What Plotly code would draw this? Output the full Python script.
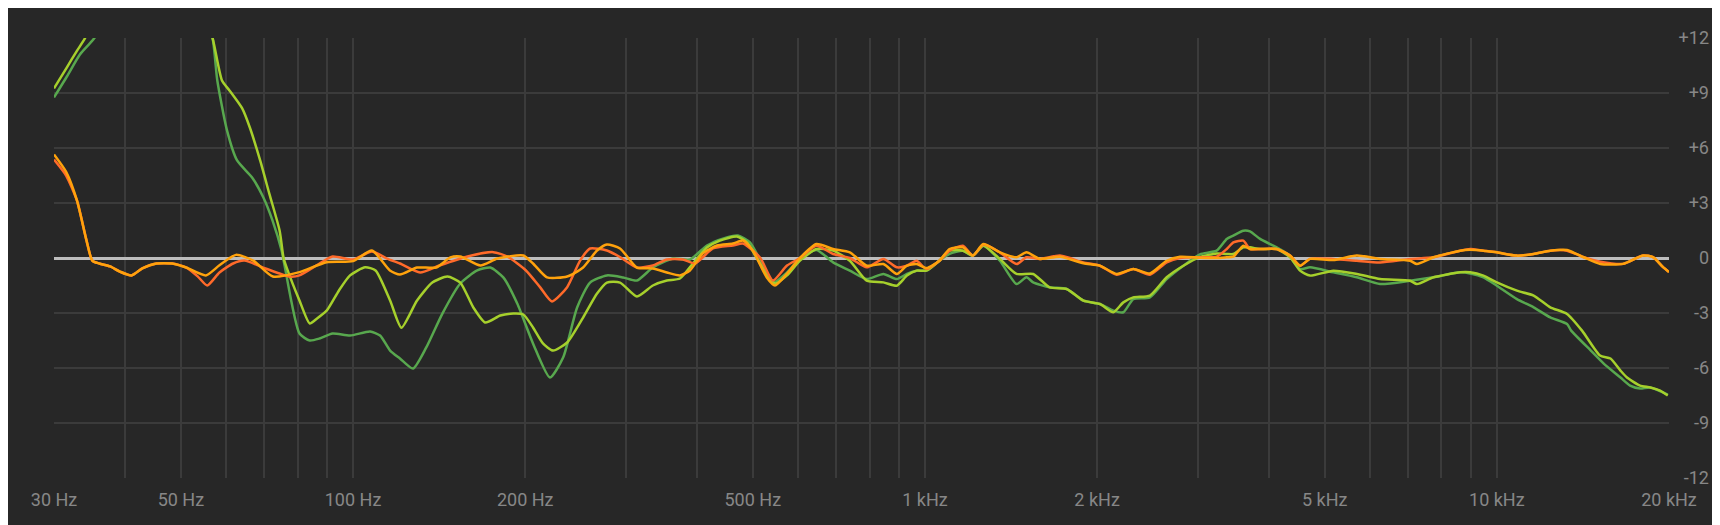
import plotly.graph_objects as go

# ---------------- data (frequency in Hz, level in dB) ----------------
green_f = [30, 31.6, 33.3, 35.3, 40, 48, 54, 56.8, 57.9, 60.2, 62.7, 66.6, 69.7, 72.3, 75.0, 75.9,
           80.6, 84.0, 87.4, 92.1, 98.8, 107.1, 111.5, 116.1, 120.8, 127.3, 134.3, 143.3, 154, 164.9,
           173.8, 183.1, 193.7, 206.4, 221, 233, 246.5, 259.7, 277.9, 296.6, 313.6, 334.4, 362.5,
           388.2, 415.7, 443.4, 471, 494.4, 520.9, 542.4, 573.9, 604.6, 646, 691, 739, 791, 846, 893,
           930, 967, 1006, 1060, 1104, 1165, 1213, 1265, 1352, 1446, 1505, 1546, 1652, 1769, 1893,
           2023, 2135, 2223, 2314, 2474, 2647, 2831, 3026, 3236, 3371, 3462, 3603, 3702, 3855, 4122,
           4349, 4528, 4714, 5177, 5690, 6250, 7053, 7751, 8629, 8984, 9475, 10000, 10842, 11596,
           12400, 13265, 13490, 14600, 15380, 16450, 17100, 17800, 18552, 19900]
green_db = [8.76, 9.9, 11.1, 12.0, 15.0, 16.0, 14.0, 12.0, 9.68, 6.96, 5.32, 4.39, 3.30, 2.05, 0.41, -0.4,
            -4.12, -4.50, -4.39, -4.12, -4.23, -4.01, -4.23, -5.05, -5.48, -6.03, -4.88, -3.03, -1.39, -0.68,
            -0.52, -1.06, -2.48, -4.66, -6.52, -5.43, -2.70, -1.34, -0.95, -1.06, -1.23, -0.52, -0.03,
            -0.08, 0.68, 1.06, 1.23, 0.85, -0.41, -1.34, -0.79, -0.03, 0.44, -0.24, -0.69, -1.15, -0.87, -1.15,
            -0.87, -0.69, -0.69, -0.15, 0.22, 0.40, 0.13, 0.67, -0.15, -1.42, -1.05, -1.33, -1.60, -1.69, -2.33,
            -2.51, -2.87, -2.96, -2.24, -2.15, -1.15, -0.42, 0.20, 0.40, 1.04, 1.22, 1.49, 1.45, 1.04, 0.58,
            0.13, -0.60, -0.51, -0.78, -1.05, -1.42, -1.24, -1.05, -0.78, -0.84, -1.05, -1.51, -2.24, -2.69,
            -3.24, -3.60, -3.96, -5.05, -5.76, -6.52, -6.96, -7.12, -7.06, -7.45]

lime_f = [30, 31.6, 32.9, 34.0, 36, 42, 50, 54, 56.8, 59.0, 60.8, 64.0, 66.0, 68.8, 71.4, 74.4, 75.6,
          76.5, 80.6, 84.0, 86.5, 90, 94.5, 98.8, 105, 109.5, 116.1, 121.5, 129.4, 137.6, 146.2, 154,
          162.3, 170.3, 180.9, 190.6, 198.5, 206.4, 214.8, 223.7, 236.8, 252.5, 267.1, 277.9, 293,
          313.6, 334.4, 353.8, 372.9, 392.9, 415.7, 438.1, 469.1, 488.5, 514.7, 546.8, 573.9, 604.6,
          646, 691, 739, 791, 846, 893, 930, 967, 1006, 1060, 1104, 1165, 1213, 1265, 1352, 1446, 1546,
          1652, 1769, 1893, 2023, 2135, 2223, 2314, 2474, 2647, 2831, 3026, 3236, 3371, 3462, 3603,
          3702, 3855, 4122, 4349, 4528, 4714, 5177, 5690, 6250, 7053, 7247, 7751, 8629, 8984, 9475,
          10000, 10842, 11596, 12400, 13265, 14092, 15150, 15800, 16450, 16890, 17800, 18552, 19300, 19900]
lime_db = [9.25, 10.4, 11.3, 12.0, 14.0, 16.0, 16.0, 14.0, 12.0, 9.68, 9.14, 8.16, 7.12, 5.32, 3.5, 1.50, 0.0,
           -0.5, -2.32, -3.57, -3.3, -2.86, -1.77, -0.95, -0.50, -0.68, -2.32, -3.8, -2.32, -1.34, -1.01, -1.34,
           -2.70, -3.52, -3.14, -3.03, -3.08, -3.79, -4.66, -5.05, -4.61, -3.25, -1.94, -1.34, -1.34,
           -2.10, -1.50, -1.23, -1.12, -0.30, 0.57, 0.95, 1.17, 0.85, -0.30, -1.39, -0.95, -0.14,
           0.49, 0.40, -0.15, -1.24, -1.33, -1.51, -0.96, -0.69, -0.69, -0.15, 0.40, 0.40, 0.13, 0.67, -0.05, -0.87, -0.87,
           -1.60, -1.69, -2.33, -2.51, -2.96, -2.42, -2.15, -2.05, -1.05, -0.42, 0.05, 0.25, 0.22, 0.22, 0.58,
           0.58, 0.49, 0.49, 0.04, -0.69, -0.96, -0.69, -0.87, -1.15, -1.24, -1.42, -1.05, -0.78, -0.78, -0.96,
           -1.33, -1.78, -2.05, -2.69, -3.05, -3.96, -5.32, -5.48, -6.14, -6.52, -6.96, -7.06, -7.23, -7.50]

red_f = [30, 31.5, 32.9, 34.2, 35.0, 36.0, 37.6, 39.1, 41.0, 42.8, 45.3, 48.3, 51.1, 53.5, 55.6, 58.4,
         61.7, 64.6, 70.3, 77.4, 80.6, 87.4, 92.1, 100, 107.9, 114.7, 120.8, 131.0, 141.6, 158.5, 175.9,
         186.1, 200.6, 212.3, 222.8, 236.8, 249.5, 259.7, 277.9, 293.0, 313.6, 334.4, 353.8, 377.4, 396,
         426, 461.6, 480.7, 514.7, 542.4, 573.9, 604.6, 646, 691, 739, 791, 846, 893, 930, 967, 1006,
         1060, 1104, 1165, 1213, 1265, 1352, 1446, 1505, 1589, 1722, 1893, 2023, 2164, 2314, 2474, 2647,
         2793, 3026, 3236, 3371, 3462, 3603, 3702, 3855, 4122, 4349, 4528, 4714, 5177, 5690, 6250, 7053,
         7751, 8629, 8984, 9475, 10000, 10842, 11596, 12400, 13265, 14186, 15166, 16620, 18015, 18755,
         19530, 20000]
red_db = [5.37, 4.5, 3.14, 0.95, -0.14, -0.30, -0.46, -0.74, -0.95, -0.57, -0.30, -0.30, -0.52, -1.0, -1.50, -0.79,
          -0.30, -0.14, -0.57, -1.01, -0.95, -0.30, 0.08, -0.08, 0.35, -0.03, -0.30, -0.79, -0.41, 0.08, 0.32,
          0.08, -0.68, -1.59, -2.37, -1.59, -0.14, 0.52, 0.41, 0.05, -0.52, -0.41, -0.08, -0.08, -0.30,
          0.52, 0.68, 0.79, 0.03, -1.23, -0.41, 0.0, 0.67, 0.22, 0.0, -0.51, -0.05, -0.51, -0.42, -0.15, -0.60,
          -0.15, 0.40, 0.67, 0.13, 0.73, 0.31, -0.33, 0.04, -0.05, 0.13, -0.24, -0.42, -0.91, -0.60, -0.91, -0.24,
          0.0, 0.04, 0.07, 0.49, 0.85, 0.95, 0.49, 0.49, 0.49, 0.13, -0.42, -0.05, -0.05, -0.15, -0.24, -0.05,
          0.04, 0.40, 0.49, 0.40, 0.31, 0.13, 0.22, 0.40, 0.40, 0.04, -0.20, -0.32, 0.14, 0.05,
          -0.50, -0.77]

orange_f = [30, 31.5, 32.9, 34.2, 35.0, 36.0, 37.6, 39.1, 41.0, 42.8, 45.3, 48.3, 51.1, 55.3, 58.4, 62.4,
            66.9, 72.4, 80.6, 89.9, 100, 107.9, 116, 120.8, 129.4, 139.8, 148, 154, 167, 178.8, 198.5,
            206.4, 218.4, 236.8, 252.5, 267.1, 277.9, 293, 313.6, 334.4, 353.8, 372.9, 388.2, 409, 433,
            461.6, 480.7, 500, 529, 546.8, 573.9, 604.6, 646, 691, 739, 791, 846, 893, 930, 967, 1006,
            1060, 1104, 1165, 1213, 1265, 1352, 1446, 1505, 1589, 1722, 1893, 2023, 2164, 2314, 2474, 2647,
            2793, 3026, 3236, 3371, 3462, 3603, 3702, 3855, 4122, 4349, 4528, 4714, 5177, 5690, 6250, 7053,
            7247, 7751, 8629, 8984, 9475, 10000, 10842, 11596, 12400, 13265, 14186, 15166, 16620, 18015,
            18755, 19530, 20000]
orange_db = [5.65, 4.7, 3.14, 0.95, -0.14, -0.30, -0.46, -0.74, -0.95, -0.57, -0.30, -0.30, -0.52, -0.95, -0.40, 0.17,
             -0.14, -1.01, -0.77, -0.23, -0.17, 0.41, -0.68, -0.90, -0.52, -0.52, 0.03, 0.08, -0.41, -0.03, 0.14,
             -0.30, -1.06, -1.01, -0.52, 0.41, 0.74, 0.52, -0.52, -0.57, -0.79, -0.95, -0.68, 0.25, 0.68,
             0.79, 0.95, 0.41, -1.06, -1.50, -0.85, 0.0, 0.76, 0.49, 0.31, -0.42, -0.33, -0.87, -0.42, -0.33, -0.55,
             -0.15, 0.49, 0.58, 0.13, 0.76, 0.31, 0.04, 0.31, -0.05, 0.07, -0.29, -0.42, -0.87, -0.60, -0.84, -0.15,
             0.07, 0.02, 0.0, 0.04, 0.07, 0.67, 0.49, 0.49, 0.49, 0.13, -0.42, -0.05, -0.11, 0.13, -0.05, -0.15,
             -0.33, 0.04, 0.40, 0.45, 0.40, 0.31, 0.13, 0.22, 0.40, 0.44, 0.04, -0.33, -0.32, 0.14,
             0.05, -0.50, -0.77]

grid_freqs = [30, 40, 50, 60, 70, 80, 90, 100, 200, 300, 400, 500, 600, 700, 800, 900,
              1000, 2000, 3000, 4000, 5000, 6000, 7000, 8000, 9000, 10000, 20000]
x_labels = {30: "30 Hz", 50: "50 Hz", 100: "100 Hz", 200: "200 Hz", 500: "500 Hz",
            1000: "1 kHz", 2000: "2 kHz", 5000: "5 kHz", 10000: "10 kHz", 20000: "20 kHz"}
y_vals = [-12, -9, -6, -3, 0, 3, 6, 9, 12]
y_labels = ["-12", "-9", "-6", "-3", "0", "+3", "+6", "+9", "+12"]

series = [
    ("green", green_f, green_db, "#58a84e"),
    ("lime", lime_f, lime_db, "#a6d02c"),
    ("red", red_f, red_db, "#ff6a2a"),
    ("orange", orange_f, orange_db, "#ffa20c"),
]

# ---------------- figure ----------------
# the page places the figure 8px in from the top-left corner
W, H = 1712, 517
L, T = 46, 30            # plot area left / top inside the figure
R_PLOT, B_PLOT = 1661, 470
R_MARGIN = 11

fig = go.Figure()
for name, f, db, col in series:
    fig.add_trace(go.Scatter(x=f, y=db, mode="lines", name=name,
                             line=dict(color=col, width=2.5, shape="spline", smoothing=0.6),
                             hoverinfo="skip"))

paper_w = W - L - R_MARGIN
paper_h = B_PLOT - T
dom_end = (R_PLOT - L) / paper_w
grid_col = "#3b3b3b"
font = dict(family="Roboto, 'Open Sans', sans-serif", size=18, color="#878787")

fig.update_layout(
    template="none",
    width=W, height=H,
    margin=dict(l=L, r=R_MARGIN, t=T, b=H - B_PLOT, pad=0, autoexpand=False),
    paper_bgcolor="#272727",
    plot_bgcolor="#272727",
    showlegend=False,
    font=font,
    xaxis=dict(type="log", domain=[0, dom_end], automargin=False,
               range=[1.4771212547, 4.3010299957],
               tickvals=grid_freqs,
               ticktext=[x_labels.get(v, "") for v in grid_freqs],
               showgrid=True, gridcolor=grid_col, gridwidth=2,
               zeroline=False, showline=False, ticks="",
               tickfont=font, ticklabelstandoff=9),
    yaxis=dict(range=[-12, 12], tickvals=y_vals, ticktext=y_labels, automargin=False,
               side="left", anchor="free", position=1.0,
               showgrid=True, gridcolor=grid_col, gridwidth=2,
               zeroline=True, zerolinecolor="#bdbdbd", zerolinewidth=3,
               showline=False, ticks="", tickfont=font),
    shapes=[dict(type="rect", xref="paper", yref="paper", layer="below",
                 x0=(1707 - L) / paper_w, x1=(W + 5 - L) / paper_w,
                 y0=-0.2, y1=1.2,
                 fillcolor="#1c1c1c", line=dict(width=0))],
)

fig.write_html("out.html")
